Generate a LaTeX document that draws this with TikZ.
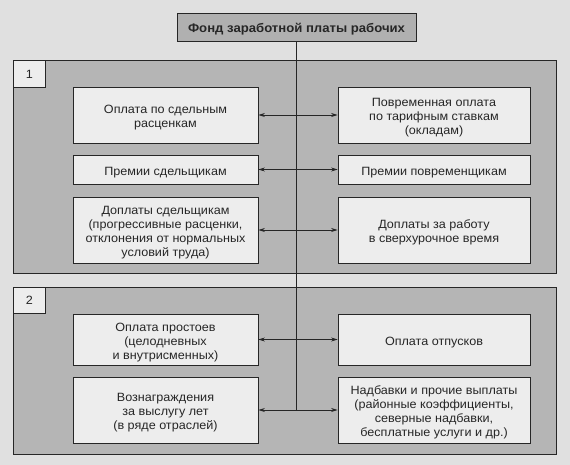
\documentclass[tikz,border=0pt]{standalone}
\usepackage{fontspec}
\setmainfont[FakeStretch=1.05]{Liberation Sans}
\usetikzlibrary{arrows.meta}
\definecolor{pagebg}{HTML}{E0E0E0}
\definecolor{panelbg}{HTML}{B5B5B5}
\definecolor{titlebg}{HTML}{B0B0B0}
\definecolor{boxbg}{HTML}{EDEDED}
\definecolor{ink}{HTML}{262626}
\newcommand{\boxtext}[1]{\begin{tabular}{@{}c@{}}\rule{0pt}{15.5pt}#1\end{tabular}}
\begin{document}
\begin{tikzpicture}[x=1pt,y=-1pt,
  every node/.style={text=ink},
  panel/.style={draw=ink, line width=0.8pt, fill=panelbg, anchor=north west, inner sep=0pt},
  tag/.style={draw=ink, line width=0.8pt, fill=boxbg, anchor=north west, inner sep=0pt,
    minimum width=32pt, minimum height=27pt, font=\fontsize{12}{14}\selectfont},
  item/.style={draw=ink, line width=0.8pt, fill=boxbg, inner sep=0pt,
    font=\fontsize{12}{14}\selectfont},
  leftitem/.style={item, minimum width=185pt},
  rightitem/.style={item, minimum width=192pt},
  head/.style={draw=ink, line width=0.8pt, fill=titlebg, inner sep=0pt,
    minimum width=239pt, minimum height=28pt, font=\fontsize{12.5}{14}\selectfont\bfseries},
  link/.style={draw=ink, line width=0.7pt, {Stealth[length=6.5pt,width=4pt]}-{Stealth[length=6.5pt,width=4pt]}},
  trunk/.style={draw=ink, line width=0.7pt}
]
\fill[pagebg] (0,0) rectangle (570,465);
\useasboundingbox (0,0) rectangle (570,465);

% panels
\node[panel, minimum width=543pt, minimum height=213pt] (p1) at (13,60) {};
\node[panel, minimum width=543pt, minimum height=167pt] (p2) at (13,287) {};
\node[tag] (t1) at (13,60) {1};
\node[tag, minimum height=26pt] (t2) at (13,287) {2};

% title
\node[head] (fund) at (296.5,27) {\boxtext{Фонд заработной платы рабочих}};

% panel 1
\node[leftitem, minimum height=56pt] (a1) at (165.5,115) {\boxtext{Оплата по сдельным\\расценкам}};
\node[rightitem, minimum height=56pt] (b1) at (434,115) {\boxtext{Повременная оплата\\по тарифным ставкам\\(окладам)}};
\node[leftitem, minimum height=29pt] (a2) at (165.5,169.5) {\boxtext{Премии сдельщикам}};
\node[rightitem, minimum height=29pt] (b2) at (434,169.5) {\boxtext{Премии повременщикам}};
\node[leftitem, minimum height=66pt] (a3) at (165.5,230) {\boxtext{Доплаты сдельщикам\\(прогрессивные расценки,\\отклонения от нормальных\\условий труда)}};
\node[rightitem, minimum height=66pt] (b3) at (434,230) {\boxtext{Доплаты за работу\\в сверхурочное время}};

% panel 2
\node[leftitem, minimum height=51pt] (a4) at (165.5,339.5) {\boxtext{Оплата простоев\\(целодневных\\и внутрисменных)}};
\node[rightitem, minimum height=51pt] (b4) at (434,339.5) {\boxtext{Оплата отпусков}};
\node[leftitem, minimum height=66pt] (a5) at (165.5,410) {\boxtext{Вознаграждения\\за выслугу лет\\(в ряде отраслей)}};
\node[rightitem, minimum height=66pt] (b5) at (434,410) {\boxtext{Надбавки и прочие выплаты\\(районные коэффициенты,\\северные надбавки,\\бесплатные услуги и др.)}};

% trunk
\coordinate (tend) at (fund.south |- a5.east);
\draw[trunk] (fund.south) -- (tend);

% links
\draw[link] (a1.east) -- (b1.west);
\draw[link] (a2.east) -- (b2.west);
\draw[link] (a3.east) -- (b3.west);
\draw[link] (a4.east) -- (b4.west);
\draw[link] (a5.east) -- (b5.west);
\end{tikzpicture}
\end{document}
